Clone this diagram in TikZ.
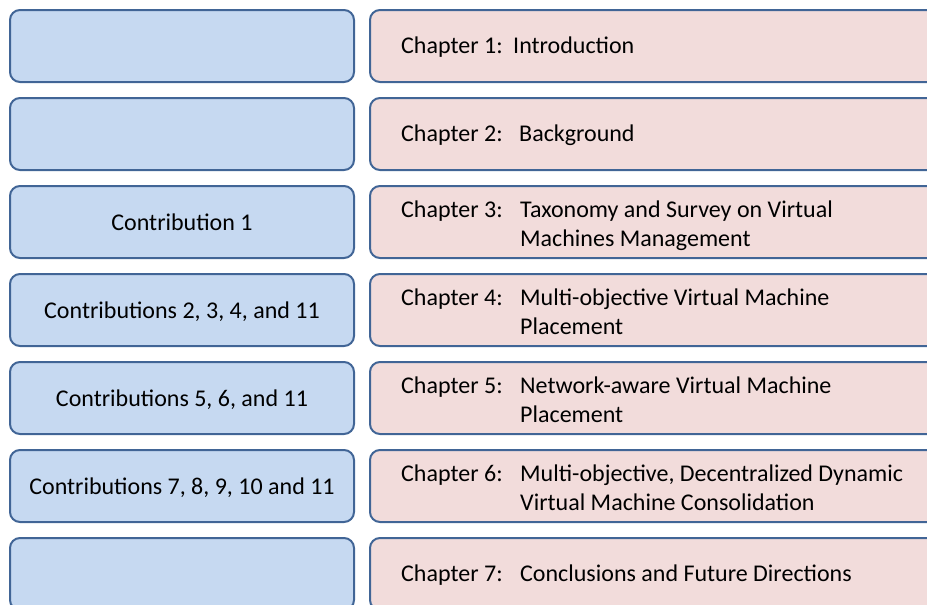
\documentclass[tikz,border=0pt]{standalone}
\usepackage{fontspec}
\setmainfont{Carlito}
\definecolor{edgeblue}{RGB}{65,101,150}
\definecolor{leftfill}{RGB}{198,217,241}
\definecolor{rightfill}{RGB}{242,220,219}
\tikzset{
  box/.style={draw=edgeblue, line width=2pt, rounded corners=10pt, minimum height=72pt, inner sep=0pt, font=\fontsize{24}{29}\selectfont},
  leftbox/.style={box, fill=leftfill, minimum width=344pt, align=center, text height=17pt, text depth=1pt},
  rightbox/.style={box, fill=rightfill, minimum width=580pt},
  chaptext/.style={anchor=west, inner sep=0pt, font=\fontsize{24}{29}\selectfont}
}
\begin{document}
\begin{tikzpicture}[x=1pt,y=-1pt]
\useasboundingbox (0,0) rectangle (927,605);
\clip (0,0) rectangle (927,605);
% left column
\node[leftbox] (l1) at (182,46) {};
\node[leftbox] (l2) at (182,134) {};
\node[leftbox] (l3) at (182,222) {Contribution 1};
\node[leftbox] (l4) at (182,310) {Contributions 2, 3, 4, and 11};
\node[leftbox] (l5) at (182,398) {Contributions 5, 6, and 11};
\node[leftbox] (l6) at (182,486) {Contributions 7, 8, 9, 10 and 11};
\node[leftbox] (l7) at (182,574) {};
% right column
\node[rightbox] (r1) at (660,46) {};
\node[rightbox] (r2) at (660,134) {};
\node[rightbox] (r3) at (660,222) {};
\node[rightbox] (r4) at (660,310) {};
\node[rightbox] (r5) at (660,398) {};
\node[rightbox] (r6) at (660,486) {};
\node[rightbox] (r7) at (660,574) {};
% chapter texts
\node[chaptext] (t1) at (401,48) {\begin{tabular}{@{}p{112pt}@{}l@{}}Chapter 1: & Introduction\end{tabular}};
\node[chaptext] (t2) at (401,136) {\begin{tabular}{@{}p{118pt}@{}l@{}}Chapter 2: & Background\end{tabular}};
\node[chaptext] (t3) at (401,226) {\begin{tabular}{@{}p{119pt}@{}l@{}}Chapter 3: & Taxonomy and Survey on Virtual\\ & Machines Management\end{tabular}};
\node[chaptext] (t4) at (401,314) {\begin{tabular}{@{}p{119pt}@{}l@{}}Chapter 4: & Multi-objective Virtual Machine\\ & Placement\end{tabular}};
\node[chaptext] (t5) at (401,402) {\begin{tabular}{@{}p{119pt}@{}l@{}}Chapter 5: & Network-aware Virtual Machine\\ & Placement\end{tabular}};
\node[chaptext] (t6) at (401,490) {\begin{tabular}{@{}p{119pt}@{}l@{}}Chapter 6: & Multi-objective, Decentralized Dynamic\\ & Virtual Machine Consolidation\end{tabular}};
\node[chaptext] (t7) at (401,576) {\begin{tabular}{@{}p{119pt}@{}l@{}}Chapter 7: & Conclusions and Future Directions\end{tabular}};
\end{tikzpicture}
\end{document}
